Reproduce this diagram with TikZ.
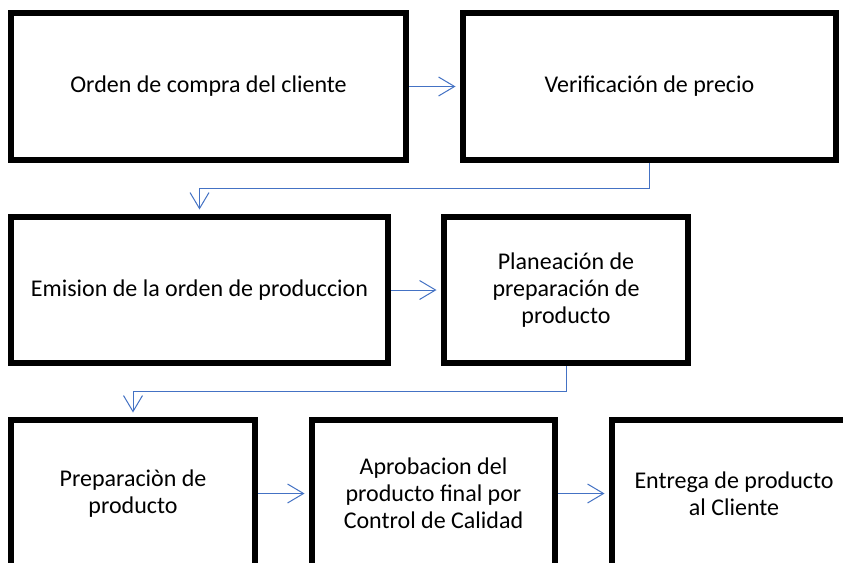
\documentclass[tikz,border=0pt]{standalone}
\usepackage{fontspec}
\setmainfont{Carlito}
\usetikzlibrary{arrows.meta}
\definecolor{flowblue}{RGB}{68,114,196}
\begin{document}
\begin{tikzpicture}[x=1pt,y=-1pt,
  box/.style={draw=black,line width=6pt,align=center,inner sep=0pt,
    font=\fontsize{24}{27}\selectfont,minimum height=147pt},
  flow/.style={draw=flowblue,line width=1pt,
    -{Straight Barb[length=16pt,width=19pt]},shorten >=4.5pt}]
\useasboundingbox (0,0) rectangle (843,562);
\fill[white] (0,0) rectangle (843,562);
\clip (0,0) rectangle (843,562);

\node[box,minimum width=395pt] (b1) at (208.5,86.5) {Orden de compra del cliente};
\node[box,minimum width=373pt] (b2) at (649.5,86.5) {Verificación de precio};
\node[box,minimum width=377pt,minimum height=146pt] (b3) at (199.5,290) {Emision de la orden de produccion};
\node[box,minimum width=244pt,minimum height=146pt] (b4) at (566,290) {Planeación de\\preparación de\\producto};
\node[box,minimum width=244pt] (b5) at (133,493.5) {Preparaciòn de\\producto};
\node[box,minimum width=243pt] (b6) at (433.5,493.5) {Aprobacion del\\producto final por\\Control de Calidad};
\node[box,minimum width=244pt] (b7) at (734,493.5) {Entrega de producto\\al Cliente};

\coordinate (k1) at (0,188);
\coordinate (k2) at (0,391);

\draw[flow] (b1.east) -- (b2.west);
\draw[flow] (b2.south) -- (b2.south |- k1) -| (b3.north);
\draw[flow] (b3.east) -- (b4.west);
\draw[flow] (b4.south) -- (b4.south |- k2) -| (b5.north);
\draw[flow] (b5.east) -- (b6.west);
\draw[flow] (b6.east) -- (b7.west);
\end{tikzpicture}
\end{document}
